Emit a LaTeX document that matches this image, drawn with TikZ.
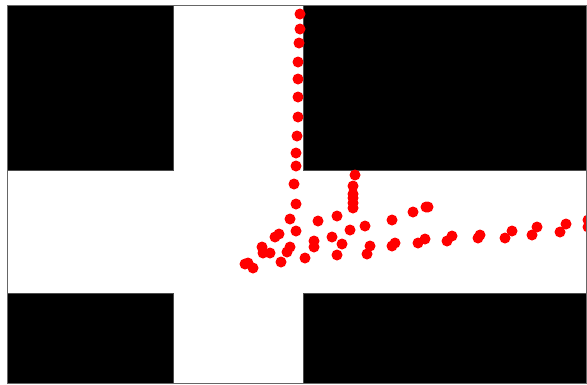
\documentclass[tikz,border=0pt]{standalone}
\usetikzlibrary{positioning}

\tikzset{
  wall/.style={fill=black, draw=black!70, line width=0.4pt},
  frame/.style={draw=black!60, line width=0.6pt},
  dot/.style={fill=red}
}

\begin{document}
\begin{tikzpicture}[x=0.03cm, y=-0.03cm]
    \useasboundingbox (0,0) rectangle (587,384);

    % blocks around the crossing
    \fill[wall] (7,5) rectangle (173,170);
    \fill[wall] (303,5) rectangle (586,170);
    \fill[wall] (7,293) rectangle (173,383);
    \fill[wall] (303,293) rectangle (586,383);

    % sampled positions
    \begin{scope}
        \clip (7,5) rectangle (586,383);
        \foreach \px/\py in {300/14, 300/29, 299/43, 298/62, 298/79, 298/97, 298/117,
            297/136, 296/153, 296/166, 294/184, 296/204, 290/219, 296/231, 275/237,
            279/234, 262/247, 263/253, 270/253, 290/247, 287/252, 248/263, 253/268,
            245/264, 281/262, 305/258, 318/221, 337/216, 350/230, 365/226, 332/237,
            314/241, 314/247, 342/244, 337/255, 355/175, 353/186, 353/194, 353/198,
            353/203, 353/208, 392/220, 413/212, 426/207, 428/207, 370/246, 367/254,
            395/243, 392/246, 425/239, 418/243, 452/236, 447/241, 480/235, 478/238,
            505/238, 512/231, 532/235, 537/227, 560/232, 566/224, 588/227, 588/220}
            \fill[dot] (\px,\py) circle[radius=0.165cm];
    \end{scope}

    \draw[frame] (7,5) rectangle (586,383);
\end{tikzpicture}
\end{document}
